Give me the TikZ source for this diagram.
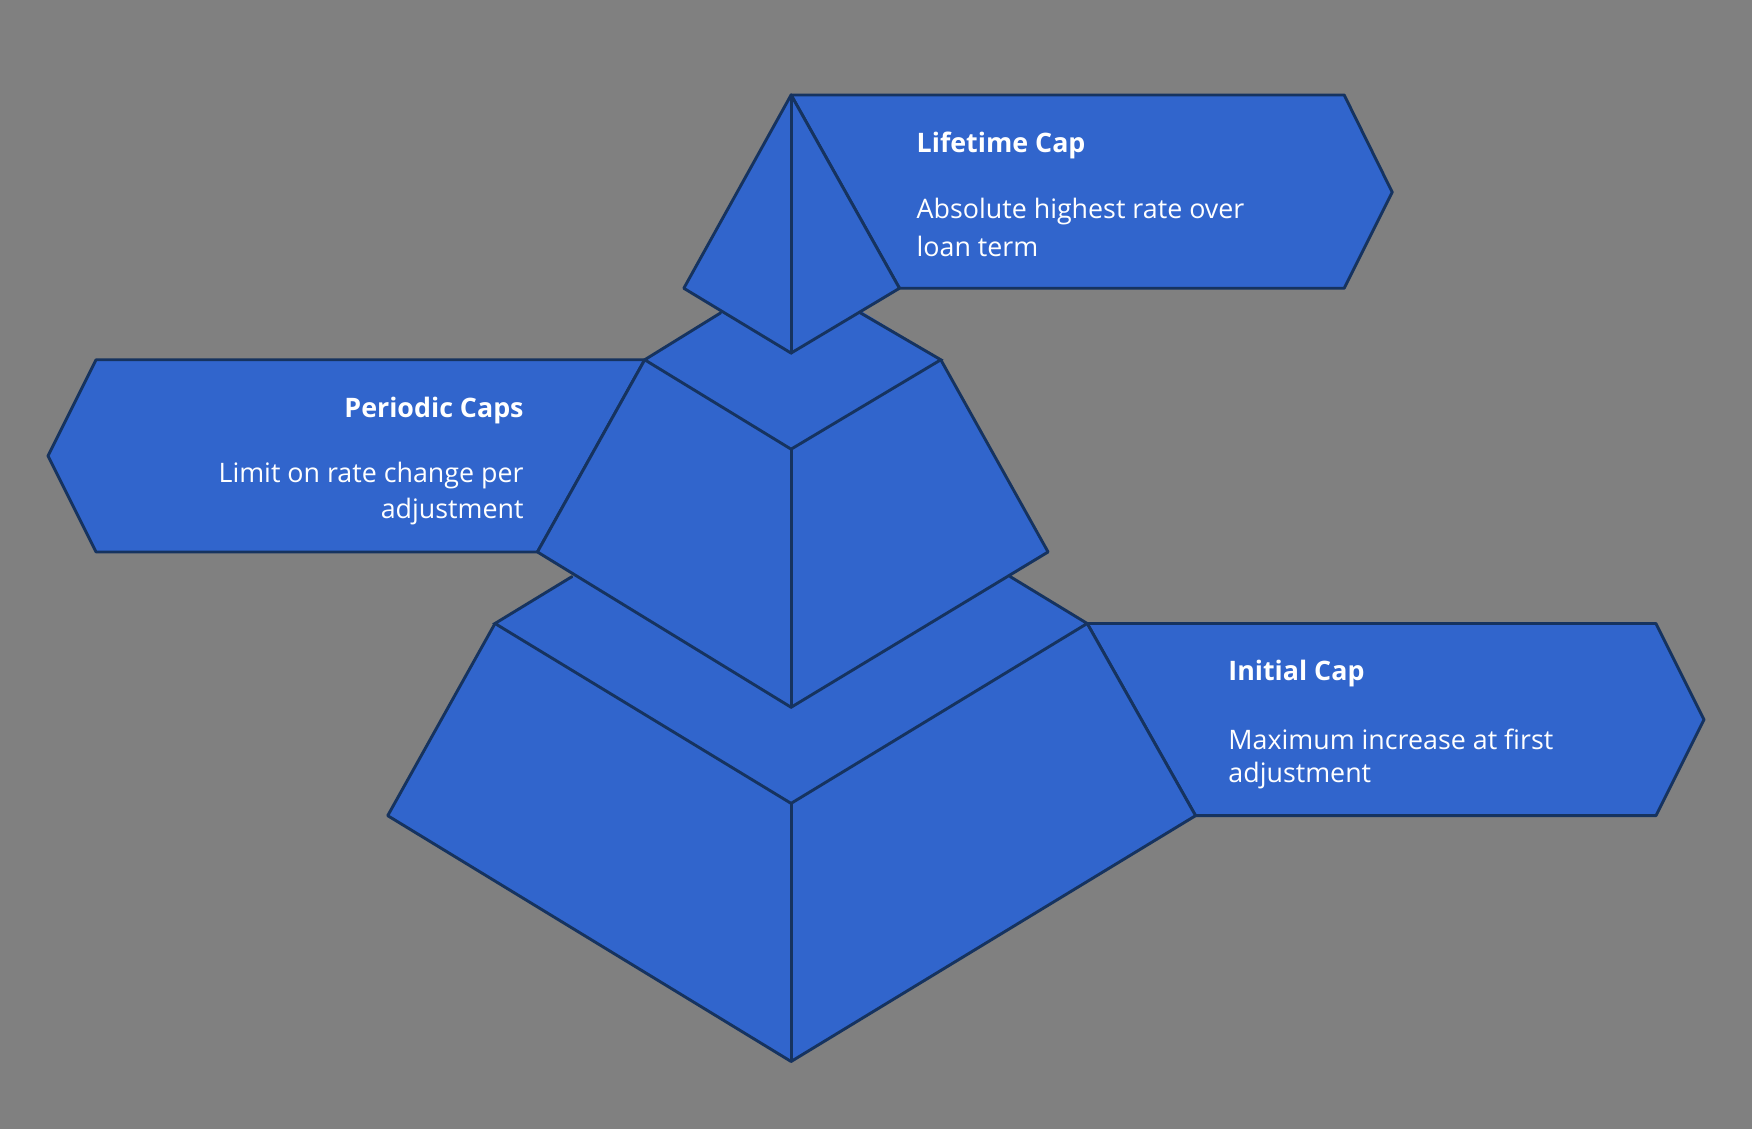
\documentclass[tikz,border=0pt]{standalone}
\usepackage{fontspec}
\setmainfont{Open Sans}
\definecolor{bg}{HTML}{808080}
\definecolor{fillb}{HTML}{3165CC}
\definecolor{edge}{HTML}{16335F}
\begin{document}
\begin{tikzpicture}[x=0.5pt,y=-0.5pt,
  face/.style={fill=fillb,draw=edge,line width=1.3pt,line join=round},
  ln/.style={draw=edge,line width=1.3pt,line cap=round},
  ttl/.style={text=white,font=\fontsize{12}{14}\selectfont\bfseries,inner sep=0pt},
  dsc/.style={text=white,font=\fontsize{12}{14}\selectfont,inner sep=0pt}]
\fill[bg] (0,0) rectangle (1568,1010);
\useasboundingbox (0,0) rectangle (1568,1010);
% banners
\path[face] (973,558) -- (1482,558) -- (1525,644) -- (1482,730) -- (1070,730) -- cycle;
\path[face] (577,322) -- (86,322) -- (43,408) -- (86,494) -- (481,494) -- cycle;
\path[face] (708,85) -- (1203,85) -- (1246,172) -- (1203,258) -- (805,258) -- cycle;
% bottom tier
\fill[fillb] (443,558) -- (347,730) -- (708,950) -- (1070,730) -- (973,558) -- (708,400) -- cycle;
\draw[face,fill=none] (443,558) -- (347,730) -- (708,950) -- (1070,730) -- (973,558);
\draw[ln] (512,516) -- (443,558) -- (708,719) -- (973,558) -- (904,516);
\draw[ln] (708,719) -- (708,950);
% middle tier
\fill[fillb] (577,322) -- (481,494) -- (708,633) -- (938,494) -- (842,322) -- (708,240) -- cycle;
\draw[face,fill=none] (577,322) -- (481,494) -- (708,633) -- (938,494) -- (842,322);
\draw[ln] (645,280) -- (577,322) -- (708,402) -- (842,322) -- (770,280);
\draw[ln] (708,402) -- (708,633);
% top pyramid
\path[face] (708,85) -- (612,258) -- (708,316) -- (805,258) -- cycle;
\draw[ln] (708,85) -- (708,316);
% texts
\node[ttl,anchor=west] (t1) at (820,130) {Lifetime Cap};
\node[dsc,anchor=west] (d1a) at (820,189) {Absolute highest rate over};
\node[dsc,anchor=west] (d1b) at (820,221) {loan term};
\node[ttl,anchor=east] (t2) at (469,367) {Periodic Caps};
\node[dsc,anchor=east] (d2a) at (469,426) {Limit on rate change per};
\node[dsc,anchor=east] (d2b) at (469,458) {adjustment};
\node[ttl,anchor=west] (t3) at (1099,603) {Initial Cap};
\node[dsc,anchor=west] (d3a) at (1099,662) {Maximum increase at first};
\node[dsc,anchor=west] (d3b) at (1099,694) {adjustment};
\end{tikzpicture}
\end{document}
